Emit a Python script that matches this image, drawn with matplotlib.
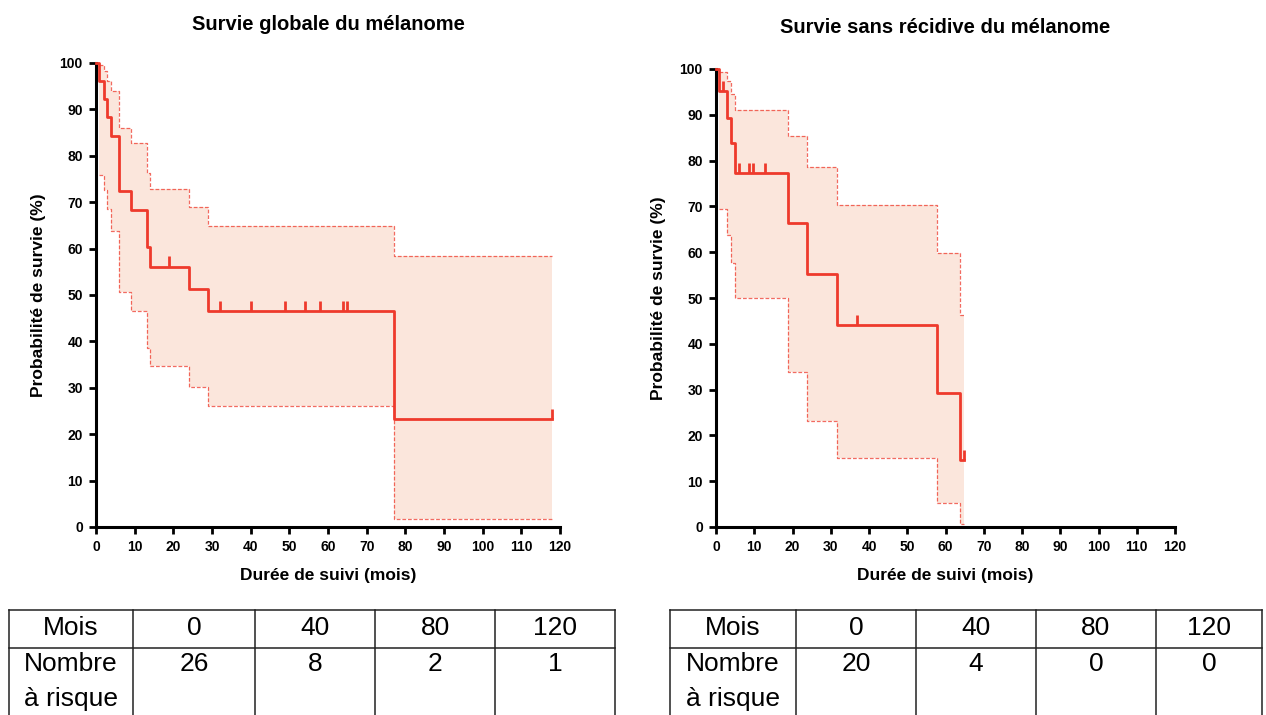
import numpy as np
import matplotlib
matplotlib.use("Agg")
import matplotlib.pyplot as plt

plt.rcParams['font.family'] = ['Liberation Sans', 'DejaVu Sans']

# --- données ---
# survie globale
os_t = [0, 0.85, 2.07, 2.76, 3.95, 6.0, 8.97, 13.1, 14.0, 24.0, 29.0, 77.0]
os_s = [100, 96.2, 92.3, 88.4, 84.3, 72.4, 68.4, 60.4, 56.1, 51.3, 46.6, 23.3]
os_hi = [100, 99.5, 98.2, 96.1, 94.0, 85.9, 82.8, 76.4, 72.8, 69.0, 64.9, 58.5]
os_lo = [100, 75.9, 72.6, 68.5, 63.8, 50.6, 46.5, 38.6, 34.7, 30.2, 26.1, 1.8]
os_fin = 118
os_cens = [19, 32, 40, 49, 54, 58, 64, 65, 118]

# survie sans récidive
rfs_t = [0, 0.78, 2.87, 3.9, 4.96, 18.9, 23.8, 31.7, 57.8, 63.7]
rfs_s = [100, 95.1, 89.4, 83.8, 77.3, 66.3, 55.3, 44.1, 29.3, 14.6]
rfs_hi = [100, 99.3, 97.3, 94.6, 91.0, 85.4, 78.6, 70.4, 59.8, 46.2]
rfs_lo = [100, 69.4, 63.8, 57.6, 50.0, 33.9, 23.2, 15.0, 5.3, 0.7]
rfs_fin = 64.8
rfs_cens = [1.9, 6.0, 8.7, 9.8, 12.9, 36.8, 64.8]

mois = [0, 40, 80, 120]
risque_os = [26, 8, 2, 1]
risque_rfs = [20, 4, 0, 0]

ROUGE = '#EE3A2C'
ROSE = '#FBE6DC'

W, H = 1266, 715
fig = plt.figure(figsize=(W / 100, H / 100), dpi=100)


def box(x0, y0, x1, y1):
    # pixels (haut-gauche) -> coordonnées figure
    return [x0 / W, 1 - y1 / H, (x1 - x0) / W, (y1 - y0) / H]


def km(ax, t, s, hi, lo, fin, cens, titre, pad_titre):
    t = np.array(t + [fin], dtype=float)
    s = np.array(s + [s[-1]])
    hi = np.array(hi + [hi[-1]])
    lo = np.array(lo + [lo[-1]])
    ax.fill_between(t, lo, hi, step='post', color=ROSE, lw=0, zorder=1)
    ax.step(t[1:], hi[1:], where='post', color=ROUGE, lw=0.9, ls=(0, (3, 1.5)), alpha=0.75, zorder=2)
    ax.step(t[1:], lo[1:], where='post', color=ROUGE, lw=0.9, ls=(0, (3, 1.5)), alpha=0.75, zorder=2)
    ax.step(t, s, where='post', color=ROUGE, lw=2, zorder=3, clip_on=False)
    idx = np.searchsorted(t[:-1], cens, side='right') - 1
    yc = s[idx]
    ax.vlines(cens, yc, yc + 2.2, color=ROUGE, lw=2, zorder=3)

    ax.set_xlim(0, 120)
    ax.set_ylim(0, 100)
    ax.set_xticks(np.arange(0, 121, 10))
    ax.set_yticks(np.arange(0, 101, 10))
    for sp in ['top', 'right']:
        ax.spines[sp].set_visible(False)
    for sp in ['left', 'bottom']:
        ax.spines[sp].set_linewidth(2.2)
    ax.tick_params(direction='out', length=5, width=2, pad=4.5, labelsize=10)
    for lab in ax.get_xticklabels() + ax.get_yticklabels():
        lab.set_fontweight('bold')
    ax.set_xlabel('Durée de suivi (mois)', fontsize=12.5, fontweight='bold', labelpad=10)
    ax.set_ylabel('Probabilité de survie (%)', fontsize=12.5, fontweight='bold', labelpad=10)
    ax.set_title(titre, fontsize=14.5, fontweight='bold', pad=pad_titre)


ax1 = fig.add_axes(box(96, 63, 560, 527))
km(ax1, os_t, os_s, os_hi, os_lo, os_fin, os_cens, 'Survie globale du mélanome', 24)

ax2 = fig.add_axes(box(716, 69, 1175, 527))
km(ax2, rfs_t, rfs_s, rfs_hi, rfs_lo, rfs_fin, rfs_cens, 'Survie sans récidive du mélanome', 26)


def tableau(xs, risque):
    ax = fig.add_axes([0, 0, 1, 1])
    ax.set_xlim(0, W)
    ax.set_ylim(H, 0)
    ax.axis('off')
    y_top, y_mid = 610, 648
    for x in xs:
        ax.plot([x, x], [y_top, H + 5], color='#222222', lw=1.1, clip_on=False)
    for y in [y_top, y_mid]:
        ax.plot([xs[0], xs[-1]], [y, y], color='#222222', lw=1.1)
    ax.text((xs[0] + xs[1]) / 2, 628, 'Mois', ha='center', va='center', fontsize=19)
    ax.text((xs[0] + xs[1]) / 2, 664, 'Nombre', ha='center', va='center', fontsize=19)
    ax.text((xs[0] + xs[1]) / 2, 699, 'à risque', ha='center', va='center', fontsize=19)
    for i, (m, n) in enumerate(zip(mois, risque)):
        xc = (xs[i + 1] + xs[i + 2]) / 2
        ax.text(xc, 628, str(m), ha='center', va='center', fontsize=19)
        ax.text(xc, 664, str(n), ha='center', va='center', fontsize=19)


tableau([9, 133, 255, 375, 495, 615], risque_os)
tableau([670, 796, 916, 1036, 1156, 1262], risque_rfs)

fig.savefig('out.png', dpi=100)
